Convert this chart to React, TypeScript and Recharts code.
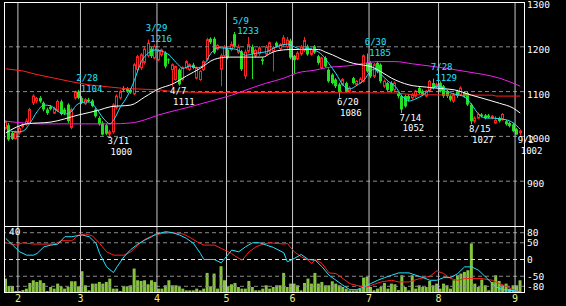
import React from "react";
import { ComposedChart, Bar, Line, XAxis, YAxis, ReferenceLine, ReferenceDot } from "recharts";

// trading days (2022), Jan 26 .. Sep 2
const dates = [
  "1/26", "1/27", "1/28", "1/31",
  "2/1", "2/2", "2/3", "2/4", "2/7", "2/8", "2/9", "2/10", "2/14", "2/15", "2/16", "2/17", "2/18", "2/21", "2/22", "2/24", "2/25", "2/28",
  "3/1", "3/2", "3/3", "3/4", "3/7", "3/8", "3/9", "3/10", "3/11", "3/14", "3/15", "3/16", "3/17", "3/18", "3/22", "3/23", "3/24", "3/25", "3/28", "3/29", "3/30", "3/31",
  "4/1", "4/4", "4/5", "4/6", "4/7", "4/8", "4/11", "4/12", "4/13", "4/14", "4/15", "4/18", "4/19", "4/20", "4/21", "4/22", "4/25", "4/26", "4/27", "4/28",
  "5/2", "5/6", "5/9", "5/10", "5/11", "5/12", "5/13", "5/16", "5/17", "5/18", "5/19", "5/20", "5/23", "5/24", "5/25", "5/26", "5/27", "5/30", "5/31",
  "6/1", "6/2", "6/3", "6/6", "6/7", "6/8", "6/9", "6/10", "6/13", "6/14", "6/15", "6/16", "6/17", "6/20", "6/21", "6/22", "6/23", "6/24", "6/27", "6/28", "6/29", "6/30",
  "7/1", "7/4", "7/5", "7/6", "7/7", "7/8", "7/11", "7/12", "7/13", "7/14", "7/15", "7/19", "7/20", "7/21", "7/22", "7/25", "7/26", "7/27", "7/28", "7/29",
  "8/1", "8/2", "8/3", "8/4", "8/5", "8/8", "8/9", "8/10", "8/12", "8/15", "8/16", "8/17", "8/18", "8/19", "8/22", "8/23", "8/24", "8/25", "8/26", "8/29", "8/30", "8/31",
  "9/1", "9/2",
];
const monthStarts = ["2/1", "3/1", "4/1", "5/2", "6/1", "7/1", "8/1", "9/1"];

const opens = [
  1018, 1025, 1008, 995, 1008, 1022, 1028, 1030, 1075, 1079,
  1086, 1075, 1060, 1066, 1052, 1058, 1078, 1060, 1071, 1020,
  1086, 1100, 1086, 1073, 1082, 1080, 1060, 1041, 1030, 1025,
  1005, 1010, 1064, 1086, 1108, 1106, 1104, 1095, 1149, 1153,
  1165, 1180, 1196, 1175, 1171, 1182, 1186, 1172, 1149, 1127,
  1149, 1127, 1153, 1149, 1160, 1130, 1127, 1149, 1172, 1218,
  1218, 1195, 1150, 1180, 1194, 1194, 1228, 1188, 1190, 1135,
  1190, 1200, 1180, 1185, 1172, 1184, 1190, 1190, 1209, 1196,
  1205, 1200, 1214, 1180, 1173, 1184, 1192, 1201, 1183, 1201,
  1179, 1153, 1175, 1149, 1138, 1127, 1116, 1116, 1119, 1101,
  1130, 1116, 1120, 1123, 1164, 1164, 1134, 1164, 1160, 1112,
  1119, 1119, 1104, 1097, 1090, 1090, 1090, 1086, 1090, 1108,
  1101, 1090, 1101, 1119, 1112, 1119, 1112, 1101, 1090, 1079,
  1101, 1093, 1097, 1097, 1071, 1034, 1041, 1049, 1047, 1047,
  1041, 1030, 1041, 1038, 1034, 1030, 1027, 1016, 1008,
];
const highs = [
  1036, 1030, 1012, 1013, 1022, 1030, 1040, 1064, 1094, 1088,
  1090, 1078, 1064, 1070, 1066, 1082, 1082, 1064, 1074, 1064,
  1102, 1104, 1090, 1086, 1086, 1083, 1063, 1045, 1034, 1028,
  1015, 1074, 1094, 1104, 1112, 1110, 1108, 1164, 1182, 1186,
  1200, 1216, 1200, 1205, 1195, 1196, 1190, 1174, 1163, 1158,
  1152, 1156, 1170, 1163, 1164, 1156, 1148, 1170, 1220, 1221,
  1222, 1206, 1185, 1204, 1198, 1212, 1233, 1205, 1193, 1194,
  1222, 1205, 1196, 1202, 1176, 1204, 1212, 1202, 1212, 1208,
  1226, 1222, 1218, 1182, 1190, 1204, 1222, 1205, 1198, 1204,
  1182, 1178, 1179, 1152, 1141, 1130, 1120, 1130, 1122, 1112,
  1133, 1126, 1132, 1183, 1185, 1168, 1164, 1167, 1163, 1127,
  1122, 1123, 1123, 1100, 1093, 1093, 1094, 1097, 1104, 1112,
  1105, 1104, 1126, 1129, 1120, 1123, 1115, 1104, 1094, 1097,
  1104, 1112, 1101, 1100, 1074, 1045, 1053, 1052, 1050, 1050,
  1048, 1045, 1044, 1052, 1037, 1033, 1030, 1019, 1015,
];
const lows = [
  1015, 990, 992, 993, 1004, 1018, 1024, 1028, 1070, 1074,
  1075, 1056, 1048, 1058, 1050, 1055, 1047, 1048, 1030, 1016,
  1082, 1083, 1072, 1070, 1076, 1065, 1042, 1024, 1002, 1003,
  1000, 1006, 1060, 1082, 1100, 1097, 1095, 1092, 1145, 1148,
  1160, 1176, 1175, 1172, 1168, 1178, 1152, 1162, 1111, 1124,
  1113, 1124, 1150, 1146, 1150, 1127, 1124, 1146, 1168, 1206,
  1184, 1192, 1112, 1176, 1172, 1190, 1198, 1184, 1146, 1128,
  1186, 1128, 1176, 1180, 1160, 1180, 1186, 1145, 1198, 1192,
  1200, 1196, 1172, 1140, 1170, 1180, 1188, 1180, 1180, 1184,
  1160, 1150, 1153, 1120, 1116, 1108, 1086, 1112, 1098, 1098,
  1116, 1112, 1117, 1120, 1142, 1130, 1130, 1141, 1119, 1108,
  1100, 1098, 1100, 1085, 1052, 1064, 1078, 1082, 1086, 1094,
  1090, 1087, 1098, 1105, 1108, 1098, 1086, 1086, 1078, 1075,
  1086, 1090, 1086, 1068, 1027, 1030, 1038, 1042, 1038, 1040,
  1038, 1028, 1031, 1035, 1024, 1020, 1009, 1004, 1002,
];
const closes = [
  1033, 993, 994, 1010, 1018, 1026, 1034, 1060, 1090, 1085,
  1078, 1060, 1052, 1061, 1062, 1078, 1050, 1052, 1034, 1060,
  1100, 1086, 1075, 1082, 1079, 1068, 1045, 1027, 1004, 1006,
  1010, 1070, 1090, 1100, 1104, 1100, 1098, 1160, 1178, 1182,
  1195, 1208, 1179, 1201, 1190, 1193, 1156, 1170, 1160, 1156,
  1116, 1153, 1167, 1160, 1153, 1153, 1145, 1167, 1216, 1210,
  1187, 1203, 1180, 1200, 1176, 1205, 1202, 1200, 1150, 1188,
  1205, 1185, 1192, 1198, 1168, 1200, 1209, 1198, 1201, 1205,
  1220, 1215, 1176, 1170, 1186, 1200, 1214, 1183, 1194, 1187,
  1164, 1175, 1156, 1123, 1119, 1112, 1101, 1127, 1101, 1108,
  1119, 1123, 1128, 1180, 1145, 1134, 1160, 1145, 1123, 1123,
  1104, 1101, 1119, 1090, 1060, 1067, 1082, 1093, 1101, 1097,
  1093, 1101, 1123, 1108, 1116, 1101, 1090, 1090, 1082, 1093,
  1090, 1108, 1090, 1071, 1034, 1041, 1049, 1045, 1041, 1043,
  1045, 1036, 1034, 1049, 1027, 1023, 1012, 1004, 1012,
];
const volumes = [
  8.6, 4.2, 4.2, 1.2, 1.2, 1.8, 2.6, 6, 7.6, 6.6,
  7.6, 6, 1.2, 3.6, 2.6, 5.6, 4, 2.6, 3.6, 7,
  7, 4, 13, 4.6, 1.6, 5.6, 5.6, 6.6, 5.6, 6.6,
  8.6, 2.6, 2.6, 1.2, 4, 4, 4.6, 14.6, 7.6, 7.2,
  7.6, 5.2, 7.6, 6.6, 2.6, 2.6, 4.6, 7.6, 4.6, 4.6,
  3.6, 2.6, 1.6, 1.6, 1.6, 2.6, 1.6, 2.6, 12, 4,
  11.6, 2.6, 16, 7.6, 3.6, 5.2, 6, 3.6, 2.6, 2.6,
  7.2, 3.6, 1.6, 1.6, 2.6, 4.6, 2.6, 3.6, 4.6, 4.6,
  12, 3.6, 5.6, 5.6, 4.6, 1.6, 6, 8.6, 5.6, 12,
  5.6, 6.6, 4.6, 4.6, 7, 5.6, 4.6, 3.6, 2.6, 1.6,
  1.6, 1.6, 2.6, 9.2, 9.6, 3.6, 1.6, 2.6, 3.6, 6,
  2.6, 5.6, 5.2, 1.8, 10.6, 3.6, 1.6, 10.6, 2.6, 4.6,
  3.6, 3.6, 7.2, 4.6, 5.6, 2.6, 5.6, 4.6, 2.6, 7.6,
  10.6, 11.6, 12.6, 13.6, 29.6, 5.6, 3.6, 8, 4.6, 1.6,
  6.6, 10.6, 7.2, 4.6, 5.6, 2.6, 4.6, 4.6, 7.6,
];

// moving averages: [day index, value]
const maFast: [number, number][] = [
  [1, 1013], [3, 1010], [5, 1012], [7, 1030], [9, 1055], [11, 1070], [13, 1068], [15, 1056], [17, 1050], [19, 1056],
  [20, 1067], [22, 1076], [24, 1077], [26, 1063], [28, 1041], [30, 1028], [31, 1036], [33, 1066], [35, 1090], [37, 1125],
  [39, 1167], [41, 1186], [43, 1193], [45, 1190], [47, 1182], [49, 1165], [51, 1152], [53, 1157], [55, 1153], [57, 1160],
  [59, 1185], [61, 1198], [63, 1197], [65, 1196], [67, 1192], [69, 1181], [71, 1184], [73, 1187], [75, 1189], [77, 1197],
  [79, 1203], [81, 1206], [83, 1200], [85, 1194], [87, 1196], [89, 1192], [91, 1182], [93, 1162], [95, 1140], [97, 1115],
  [99, 1106], [101, 1114], [103, 1125], [105, 1146], [106, 1150], [108, 1138], [110, 1123], [112, 1112], [114, 1090], [116, 1079],
  [118, 1084], [120, 1092], [122, 1104], [124, 1112], [126, 1108], [128, 1097], [130, 1093], [132, 1088], [134, 1071], [136, 1050],
  [138, 1041], [140, 1041], [142, 1039], [144, 1037], [146, 1030], [148, 1016],
];
const maMid: [number, number][] = [
  [0, 1008], [6, 1028], [13, 1032], [21, 1048], [27, 1059], [30, 1066], [36, 1070], [40, 1088], [44, 1106], [48, 1117],
  [52, 1135], [56, 1152], [60, 1172], [64, 1177], [74, 1177], [76, 1185], [78, 1191], [82, 1194], [90, 1194], [92, 1188],
  [94, 1182], [97, 1171], [100, 1163], [103, 1159], [105, 1156], [108, 1144], [111, 1130], [116, 1115], [121, 1110], [125, 1107],
  [129, 1104], [134, 1092], [139, 1081], [142, 1074], [146, 1063], [148, 1052],
];
const maSlow: [number, number][] = [
  [0, 1034], [5, 1030], [10, 1028], [21, 1028], [30, 1028], [36, 1030], [40, 1037], [44, 1048], [50, 1060], [53, 1066],
  [60, 1081], [65, 1092], [70, 1106], [75, 1119], [80, 1130], [84, 1142], [89, 1148], [92, 1153], [99, 1158], [103, 1163],
  [107, 1167], [112, 1167], [117, 1162], [123, 1156], [133, 1144], [142, 1130], [148, 1112],
];
const maLong: [number, number][] = [
  [0, 1151], [5, 1146], [9, 1138], [14, 1130], [19, 1122], [24, 1115], [29, 1111], [34, 1107], [44, 1104], [48, 1100],
  [57, 1098], [76, 1098], [112, 1097], [117, 1093], [140, 1092], [141, 1090], [148, 1090],
];
const oscFast: [number, number][] = [
  [0, 63], [2, 43], [4, 23], [6, 13], [8, 13], [9, 18], [11, 38], [13, 43], [15, 46], [17, 68],
  [19, 68], [20, 70], [22, 73], [24, 68], [26, 48], [27, 18], [29, -22], [31, -39], [32, -22], [34, 8],
  [36, 30], [38, 46], [40, 58], [42, 68], [43, 75], [46, 83], [48, 80], [50, 73], [52, 63], [54, 48],
  [56, 18], [57, 0], [60, 0], [62, -10], [63, 3], [65, 28], [67, 23], [69, 38], [71, 50], [73, 50],
  [75, 43], [77, 36], [80, 20], [81, -7], [83, 3], [85, 15], [87, 0], [89, -2], [91, -22], [93, -47],
  [95, -62], [97, -77], [99, -90], [101, -90], [103, -82], [105, -72], [107, -62], [109, -54], [111, -47], [113, -40],
  [116, -40], [118, -47], [120, -54], [122, -62], [124, -62], [126, -54], [128, -54], [130, -42], [132, -22], [134, -22],
  [136, -32], [137, -42], [139, -62], [141, -82], [143, -90], [145, -92], [147, -94], [148, -97],
];
const oscSlow: [number, number][] = [
  [0, 50], [3, 43], [5, 50], [8, 46], [11, 46], [14, 46], [16, 56], [19, 56], [21, 73], [23, 76],
  [25, 70], [27, 48], [29, 23], [31, 13], [34, 13], [36, 23], [38, 43], [40, 60], [42, 70], [45, 78],
  [48, 80], [51, 76], [53, 66], [55, 53], [57, 43], [60, 43], [62, 33], [65, 18], [66, 10], [68, -2],
  [70, 23], [72, 38], [74, 46], [76, 50], [80, 46], [81, 48], [83, 23], [85, 8], [87, -2], [88, -12],
  [89, 0], [91, -12], [93, -40], [95, -42], [97, -57], [99, -72], [102, -80], [104, -82], [106, -74], [108, -67],
  [111, -62], [113, -67], [116, -67], [119, -57], [122, -50], [124, -34], [126, -42], [128, -57], [130, -62], [132, -57],
  [135, -57], [137, -57], [140, -62], [142, -72], [144, -80], [146, -90], [148, -97],
];

const peakDates = ["2/28", "3/29", "5/9", "6/30", "7/28"];
const peakPrices = [1104, 1216, 1233, 1185, 1129];
const troughDates = ["3/11", "4/7", "6/20", "7/14", "8/15", "9/2"];
const troughPrices = [1000, 1111, 1086, 1052, 1027, 1002];

const RED = "#ff2020";
const GREEN = "#22e022";
const CYAN = "#22e4ff";
const MAGENTA = "#f020f0";
const VOL = "#86c43c";
const YELLOW = "#f0f080";
const GRID = "#8a8a8a";
const MONTH = "#c8c8c8";
const MONO = "'DejaVu Sans Mono', monospace";
const HALF_BAND = 518 / 149 / 2;

type Row = {
  date: string; o: number; h: number; l: number; c: number; range: number[]; vol: number;
  fast: number | null; mid: number | null; slow: number | null; long: number | null;
  oscF: number | null; oscS: number | null;
};

const rows: Row[] = dates.map((date, i) => ({
  date, o: opens[i], h: highs[i], l: lows[i], c: closes[i], range: [lows[i], highs[i]], vol: volumes[i],
  fast: null, mid: null, slow: null, long: null, oscF: null, oscS: null,
}));
maFast.forEach(([i, v]) => { rows[i].fast = v; });
maMid.forEach(([i, v]) => { rows[i].mid = v; });
maSlow.forEach(([i, v]) => { rows[i].slow = v; });
maLong.forEach(([i, v]) => { rows[i].long = v; });
oscFast.forEach(([i, v]) => { rows[i].oscF = v; });
oscSlow.forEach(([i, v]) => { rows[i].oscS = v; });

const Candle = (props: any) => {
  const { x, y, width, height, payload } = props;
  if (!payload) return null;
  const { o, h, l, c } = payload;
  const top = height >= 0 ? y : y + height;
  const span = Math.abs(height);
  const k = h - l > 0 ? span / (h - l) : 0;
  const cx = Math.floor(x + width / 2) + 0.5;
  const yO = top + (h - o) * k;
  const yC = top + (h - c) * k;
  const up = c >= o;
  const bTop = Math.min(yO, yC);
  const bH = Math.max(Math.abs(yO - yC), 1);
  const color = up ? RED : GREEN;
  return (
    <g>
      <line x1={cx} x2={cx} y1={top} y2={top + span} stroke={color} strokeWidth={1} />
      {up ? (
        <rect x={cx - 1} y={bTop} width={2} height={bH} fill="#000" stroke={RED} strokeWidth={1} />
      ) : (
        <rect x={cx - 1.5} y={bTop} width={3} height={bH} fill={GREEN} />
      )}
    </g>
  );
};

const LABEL_SIZE = 9;

const PeakLabel = (date: string, price: number) => (p: any) => (
  <g>
    <text x={p.cx - 2.5} y={p.cy - 8.4} fill={CYAN} fontSize={LABEL_SIZE} fontFamily={MONO}>{date}</text>
    <text x={p.cx + 2} y={p.cy + 2.3} fill={CYAN} fontSize={LABEL_SIZE} fontFamily={MONO}>{price}</text>
  </g>
);
const TroughLabel = (date: string, price: number) => (p: any) => (
  <g>
    <text x={p.cx - 2.5} y={p.cy + 7.6} fill="#fff" fontSize={LABEL_SIZE} fontFamily={MONO}>{date}</text>
    <text x={p.cx + 0.5} y={p.cy + 18.2} fill="#fff" fontSize={LABEL_SIZE} fontFamily={MONO}>{price}</text>
  </g>
);

const PriceTick = (p: any) => (
  <text x={p.x} y={p.y + 6} fill="#fff" fontSize={9.5} fontFamily={MONO} textAnchor="start">
    {p.payload.value}
  </text>
);

const OscTick = (p: any) => (
  <text x={p.x} y={p.y + 3.6} fill="#fff" fontSize={9.5} fontFamily={MONO} textAnchor="start">
    {p.payload.value}
  </text>
);

function PriceChart() {
  return (
    <ComposedChart width={566} height={226} data={rows} margin={{ top: 2, right: 0, bottom: 0, left: 4 }} barCategoryGap={0}>
      <XAxis dataKey="date" hide padding={{ left: 0, right: 2 }} />
      <YAxis
        orientation="right"
        domain={[800, 1300]}
        ticks={[900, 1000, 1100, 1200, 1300]}
        interval={0}
        allowDataOverflow
        width={42}
        axisLine={false}
        tickLine={false}
        tickSize={0}
        tickMargin={3}
        tick={<PriceTick />}
      />
      {[900, 1000, 1100, 1200].map((v) => (
        <ReferenceLine key={v} y={v} stroke={GRID} strokeDasharray="4 3" />
      ))}
      {monthStarts.map((d) => (
        <ReferenceLine key={d} x={d} position="start" stroke={MONTH} />
      ))}
      <Bar dataKey="range" shape={<Candle />} barSize={3} isAnimationActive={false} />
      <Line dataKey="long" type="linear" stroke={RED} strokeWidth={1} dot={false} activeDot={false} connectNulls isAnimationActive={false} />
      <Line dataKey="slow" type="monotone" stroke={MAGENTA} strokeWidth={1} dot={false} activeDot={false} connectNulls isAnimationActive={false} />
      <Line dataKey="mid" type="monotone" stroke="#ffffff" strokeWidth={1} dot={false} activeDot={false} connectNulls isAnimationActive={false} />
      <Line dataKey="fast" type="monotone" stroke={CYAN} strokeWidth={1} dot={false} activeDot={false} connectNulls isAnimationActive={false} />
      {peakDates.map((d, i) => (
        <ReferenceDot key={d} x={d} y={peakPrices[i]} r={0} shape={PeakLabel(d, peakPrices[i])} />
      ))}
      {troughDates.map((d, i) => (
        <ReferenceDot key={d} x={d} y={troughPrices[i]} r={0} shape={TroughLabel(d, troughPrices[i])} />
      ))}
    </ComposedChart>
  );
}

const MonthTick = (p: any) => (
  <text x={p.x - HALF_BAND} y={76} fill={YELLOW} fontSize={10} fontFamily={MONO} textAnchor="middle">
    {String(p.payload.value).split("/")[0]}
  </text>
);

function IndicatorChart() {
  return (
    <ComposedChart width={566} height={80} data={rows} margin={{ top: 0, right: 0, bottom: 0, left: 4 }} barCategoryGap={0}>
      <XAxis
        dataKey="date"
        height={13}
        padding={{ left: 0, right: 2 }}
        ticks={monthStarts}
        interval={0}
        axisLine={false}
        tickLine={false}
        tick={<MonthTick />}
      />
      <YAxis yAxisId="vol" hide domain={[0, 40]} />
      <YAxis
        yAxisId="osc"
        orientation="right"
        domain={[-100, 100]}
        ticks={[80, 50, 0, -50, -80]}
        interval={0}
        width={42}
        axisLine={false}
        tickLine={false}
        tickSize={0}
        tickMargin={3}
        tick={<OscTick />}
      />
      {[80, 50, -50, -80].map((v) => (
        <ReferenceLine key={v} yAxisId="osc" y={v} stroke={GRID} strokeDasharray="4 3" />
      ))}
      <ReferenceLine yAxisId="osc" y={0} stroke="#e0e0e0" strokeDasharray="4 3" />
      {monthStarts.map((d) => (
        <ReferenceLine key={d} yAxisId="osc" x={d} position="start" stroke={MONTH} />
      ))}
      <Bar yAxisId="vol" dataKey="vol" fill={VOL} barSize={3} isAnimationActive={false} />
      <Line yAxisId="osc" dataKey="oscS" type="linear" stroke={RED} strokeWidth={1} dot={false} activeDot={false} connectNulls isAnimationActive={false} />
      <Line yAxisId="osc" dataKey="oscF" type="linear" stroke={CYAN} strokeWidth={1} dot={false} activeDot={false} connectNulls isAnimationActive={false} />
    </ComposedChart>
  );
}

export default function App() {
  return (
    <div style={{ position: "absolute", left: 0, top: 0, width: 566, height: 306, background: "#000", overflow: "hidden" }}>
      <div style={{ position: "absolute", left: 0, top: 0 }}>
        <PriceChart />
      </div>
      <div style={{ position: "absolute", left: 0, top: 226 }}>
        <IndicatorChart />
      </div>
      <div style={{ position: "absolute", left: 4, top: 2, width: 521, height: 291, border: "1px solid #fff", boxSizing: "border-box", pointerEvents: "none" }} />
      <div style={{ position: "absolute", left: 4, top: 226, width: 521, height: 1, background: "#fff" }} />
      <div style={{ position: "absolute", left: 9, top: 226, color: "#fff", fontSize: 9.5, lineHeight: "11px", fontFamily: MONO }}>40</div>
    </div>
  );
}
